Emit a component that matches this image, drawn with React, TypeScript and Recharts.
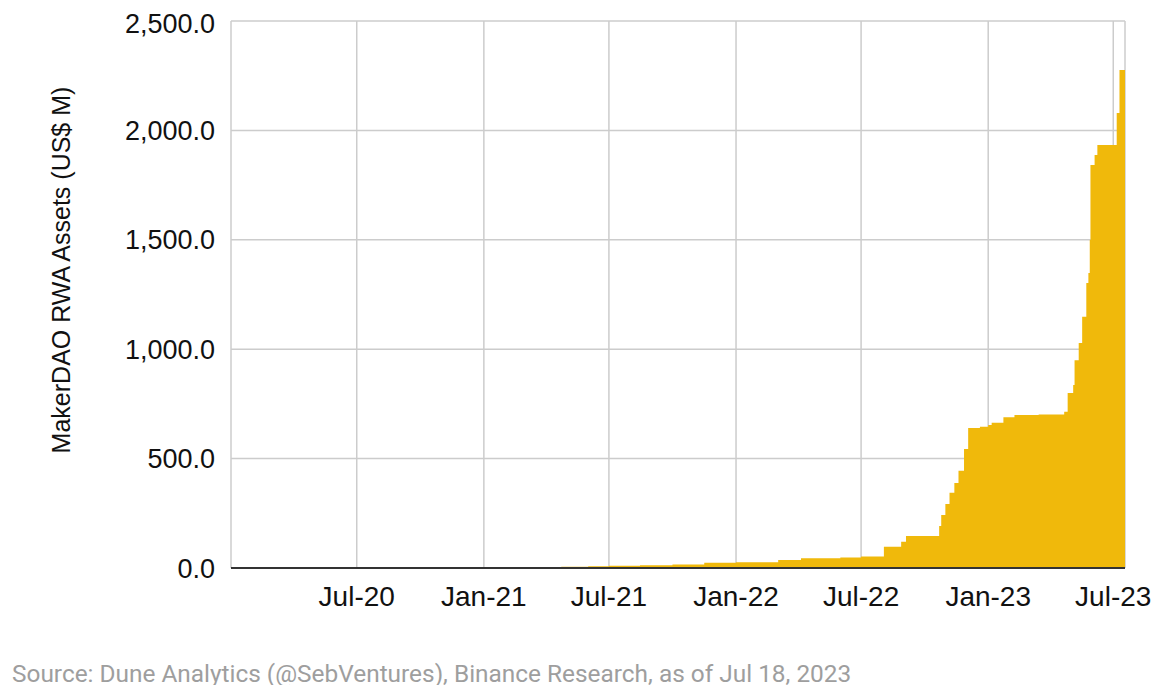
import { AreaChart, Area, XAxis, YAxis, CartesianGrid } from "recharts"

// MakerDAO RWA assets, US$ M (step changes)
const dates = [
  "2020-01-01", "2021-04-23", "2021-06-01", "2021-07-01", "2021-08-15", "2021-10-01",
  "2021-11-16", "2022-01-01", "2022-03-03", "2022-04-05", "2022-06-01", "2022-07-01",
  "2022-08-03", "2022-08-28", "2022-09-04", "2022-10-22", "2022-10-25", "2022-10-31",
  "2022-11-06", "2022-11-13", "2022-11-19", "2022-11-27", "2022-12-03", "2022-12-20",
  "2023-01-01", "2023-01-06", "2023-01-23", "2023-02-08", "2023-03-15", "2023-04-21",
  "2023-04-26", "2023-05-04", "2023-05-06", "2023-05-12", "2023-05-17", "2023-05-23",
  "2023-05-26", "2023-05-28", "2023-05-29", "2023-06-04", "2023-06-08", "2023-07-06",
  "2023-07-10", "2023-07-18",
]
const rwaAssets = [
  0, 6, 8, 10, 12, 16,
  24, 26, 36, 45, 48, 52,
  97, 120, 146, 192, 242, 292,
  344, 388, 445, 544, 640, 645,
  654, 664, 689, 699, 702, 714,
  800, 836, 950, 1028, 1148, 1302,
  1348, 1499, 1842, 1888, 1933, 2080,
  2276, 2276,
]
const tickDates = ["2020-07-01", "2021-01-01", "2021-07-01", "2022-01-01", "2022-07-01", "2023-01-01", "2023-07-01"]
const yTicks = [0, 500, 1000, 1500, 2000, 2500]
const months = ["Jan", "Feb", "Mar", "Apr", "May", "Jun", "Jul", "Aug", "Sep", "Oct", "Nov", "Dec"]

const toTs = (d: string) => Date.parse(d + "T00:00:00Z")

const data = dates.map((d, i) => ({ t: toTs(d), value: rwaAssets[i] }))

const fmtDate = (t: number) => {
  const d = new Date(t)
  return `${months[d.getUTCMonth()]}-${String(d.getUTCFullYear()).slice(2)}`
}
const fmtVal = (v: number) =>
  v.toLocaleString("en-US", { minimumFractionDigits: 1, maximumFractionDigits: 1 })

const font = "'Liberation Sans', Arial, sans-serif"

export default function App() {
  return (
    <div style={{ position: "relative", width: 1159, height: 677 }}>
      <AreaChart
        width={1159}
        height={620}
        data={data}
        margin={{ top: 13, right: 42, bottom: 0, left: 0 }}
      >
        <CartesianGrid stroke="#cccccc" strokeWidth={1.5} />
        <XAxis
          dataKey="t"
          type="number"
          scale="time"
          domain={[toTs("2020-01-01"), toTs("2023-07-18")]}
          ticks={tickDates.map(toTs)}
          tickFormatter={fmtDate}
          tickLine={false}
          axisLine={{ stroke: "#333333", strokeWidth: 2 }}
          tick={{ fill: "#111", fontSize: 28, fontFamily: font }}
          tickMargin={12}
          height={60}
        />
        <YAxis
          domain={[0, 2500]}
          ticks={yTicks}
          tickFormatter={fmtVal}
          axisLine={false}
          tickLine={false}
          tickMargin={10}
          width={223}
          tick={{ fill: "#111", fontSize: 27, fontFamily: font }}
          label={{
            content: () => (
              <text
                x={53}
                y={262}
                transform="rotate(-90 53 262)"
                textAnchor="middle"
                dominantBaseline="central"
                fill="#111"
                fontSize={25}
                fontFamily={font}
              >
                MakerDAO RWA Assets (US$ M)
              </text>
            ),
          }}
        />
        <Area
          type="stepAfter"
          dataKey="value"
          fill="#F0B90B"
          fillOpacity={1}
          stroke="none"
          isAnimationActive={false}
        />
      </AreaChart>
      <div
        style={{
          position: "absolute",
          left: 4,
          top: 651,
          fontFamily: "Roboto, sans-serif",
          fontSize: 24.4,
          color: "#9e9e9e",
          whiteSpace: "nowrap",
        }}
      >
        Source: Dune Analytics (@SebVentures), Binance Research, as of Jul 18, 2023
      </div>
    </div>
  )
}
